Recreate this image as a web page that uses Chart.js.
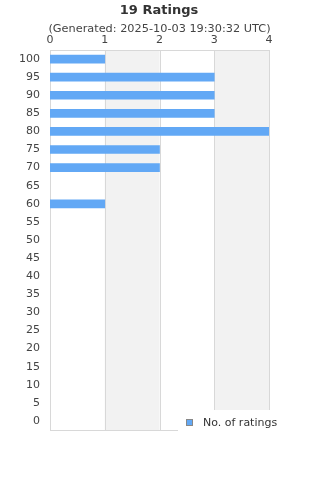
<!DOCTYPE html>
<html>
<head>
<meta charset="utf-8">
<script src="https://cdn.jsdelivr.net/npm/chart.js@4/dist/chart.umd.min.js"></script>
<style>
  html, body { margin: 0; padding: 0; background: #fff; }
  #wrap { position: relative; width: 320px; height: 480px; }
</style>
</head>
<body>
<div id="wrap"><canvas id="myChart" width="320" height="480"></canvas></div>
<script>
const scores = ['100', '95', '90', '85', '80', '75', '70', '65', '60', '55', '50',
    '45', '40', '35', '30', '25', '20', '15', '10', '5', '0'];
const ratingCounts = [1, 3, 3, 3, 4, 2, 2, 0, 1, 0, 0, 0, 0, 0, 0, 0, 0, 0, 0, 0, 0];
const countTicks = [0, 1, 2, 3, 4];
const seriesName = 'No. of ratings';
const titleText = '19 Ratings';
const subtitleText = '(Generated: 2025-10-03 19:30:32 UTC)';

const barColor = '#62a8f5';
const fontFamily = 'DejaVu Sans';

// alternating grey bands + outer frame of the plot
const bandsPlugin = {
    id: 'bands',
    beforeDatasetsDraw(chart) {
        const ctx = chart.ctx, x = chart.scales.x, area = chart.chartArea;
        ctx.save();
        ctx.fillStyle = '#f2f2f2';
        for (let i = 1; i < countTicks.length - 1; i += 2) {
            const x0 = x.getPixelForValue(countTicks[i]);
            const x1 = x.getPixelForValue(countTicks[i + 1]);
            ctx.fillRect(x0, area.top, x1 - x0, area.bottom - area.top);
        }
        ctx.strokeStyle = '#d8d8d8';
        ctx.lineWidth = 1;
        for (const t of countTicks) {
            const px = Math.round(x.getPixelForValue(t)) + 0.5;
            ctx.beginPath();
            ctx.moveTo(px, area.top);
            ctx.lineTo(px, area.bottom);
            ctx.stroke();
        }
        ctx.beginPath();
        ctx.moveTo(area.left, Math.round(area.top) + 0.5);
        ctx.lineTo(area.right, Math.round(area.top) + 0.5);
        ctx.moveTo(area.left, Math.round(area.bottom) + 0.5);
        ctx.lineTo(area.right, Math.round(area.bottom) + 0.5);
        ctx.stroke();
        ctx.restore();
    }
};

// title, subtitle and the legend box over the bottom-right corner
const textPlugin = {
    id: 'texts',
    afterDraw(chart) {
        const ctx = chart.ctx, area = chart.chartArea;
        ctx.save();
        ctx.textAlign = 'center';
        ctx.textBaseline = 'middle';
        ctx.fillStyle = '#333';
        ctx.font = 'bold 13px ' + fontFamily;
        ctx.fillText(titleText, 159, 11);
        ctx.fillStyle = '#444';
        ctx.font = '11.3px ' + fontFamily;
        ctx.fillText(subtitleText, 159.5, 29);

        const bx = 178, by = Math.round(area.bottom) - 20;
        ctx.fillStyle = '#fff';
        ctx.fillRect(bx, by, 320 - bx, 22);
        ctx.fillStyle = barColor;
        ctx.fillRect(bx + 8, by + 9, 7, 7);
        ctx.strokeStyle = '#888';
        ctx.lineWidth = 1;
        ctx.strokeRect(bx + 8.5, by + 9.5, 6, 6);
        ctx.fillStyle = '#333';
        ctx.font = '11px ' + fontFamily;
        ctx.textAlign = 'left';
        ctx.fillText(seriesName, bx + 25, by + 13);
        ctx.restore();
    }
};

const ctx = document.getElementById('myChart').getContext('2d');
const myChart = new Chart(ctx, {
    type: 'bar',
    data: {
        labels: scores,
        datasets: [{
            label: seriesName,
            data: ratingCounts,
            backgroundColor: (c) => (c.raw > 0 ? barColor : 'rgba(0,0,0,0)'),
            barThickness: 8
        }]
    },
    options: {
        indexAxis: 'y',
        responsive: false,
        animation: false,
        layout: { padding: { left: 0, right: 51, bottom: 50, top: 35 } },
        plugins: {
            legend: { display: false },
            tooltip: { enabled: false },
            title: { display: false },
            subtitle: { display: false }
        },
        scales: {
            x: {
                position: 'top',
                min: 0,
                max: 4,
                afterBuildTicks: (s) => { s.ticks = countTicks.map(v => ({ value: v })); },
                ticks: {
                    color: '#444',
                    font: { family: fontFamily, size: 11 },
                    padding: 3
                },
                grid: { display: false, drawTicks: false },
                border: { display: false },
                afterFit: (s) => { s.height = 15; }
            },
            y: {
                ticks: {
                    color: '#444',
                    font: { family: fontFamily, size: 11 },
                    padding: 10,
                    autoSkip: false
                },
                grid: { display: false, drawTicks: false },
                border: { display: false },
                afterFit: (s) => { s.width = 50; }
            }
        }
    },
    plugins: [bandsPlugin, textPlugin]
});
</script>
</body>
</html>
